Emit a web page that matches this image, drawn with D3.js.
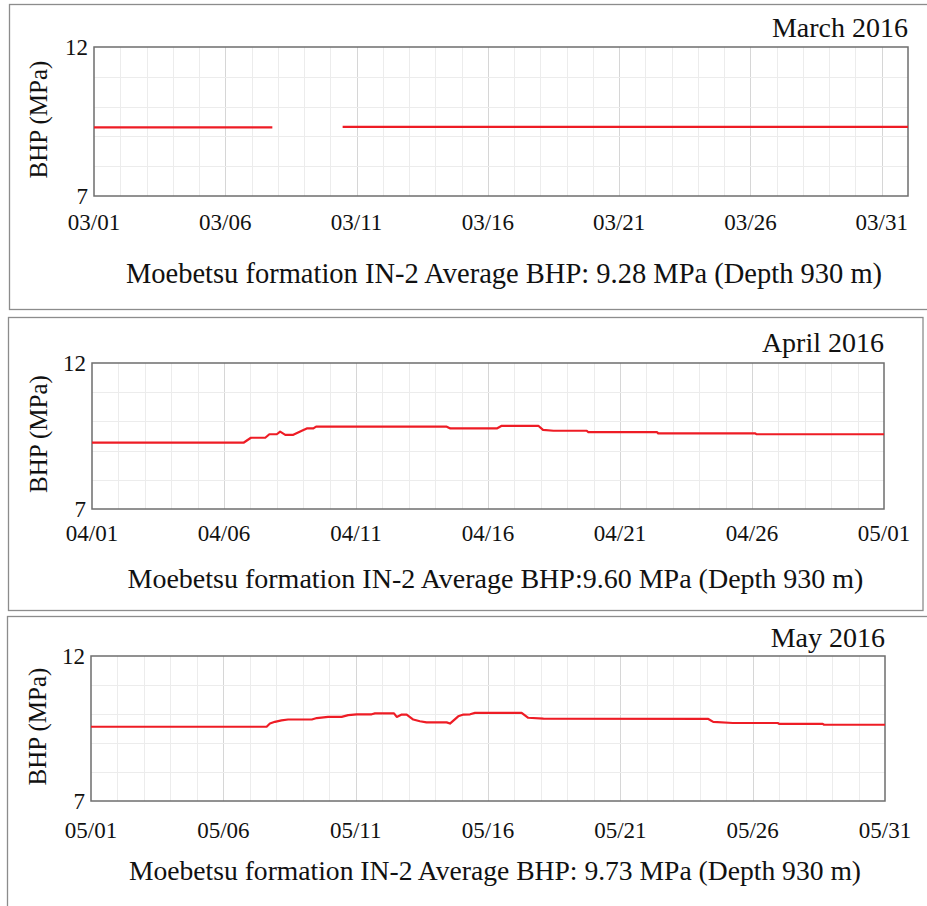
<!DOCTYPE html>
<html>
<head>
<meta charset="utf-8">
<script src="https://cdn.jsdelivr.net/npm/d3@7"></script>
<style>
  body { margin:0; background:#fff; }
</style>
</head>
<body>
<svg id="chart" width="927" height="906"></svg>
<script>
// ----------------------------------------------------------------
// BHP readings, Moebetsu formation IN-2
// ----------------------------------------------------------------
var marchTimes = ["2016-03-01 00:00","2016-03-07 19:00","2016-03-09 00:00","2016-03-10 11:15","2016-04-01 00:00"];
var marchValues = [9.30, 9.30, null, 9.32, 9.32];

var aprilTimes = ["2016-04-01 00:00","2016-04-06 17:45","2016-04-07 00:30","2016-04-07 13:30","2016-04-07 17:15",
  "2016-04-08 00:00","2016-04-08 03:00","2016-04-08 07:45","2016-04-08 15:00","2016-04-08 22:45","2016-04-09 03:15",
  "2016-04-09 09:15","2016-04-09 11:45","2016-04-14 10:30","2016-04-14 13:45","2016-04-16 08:00","2016-04-16 12:30",
  "2016-04-17 21:45","2016-04-18 02:00","2016-04-18 11:30","2016-04-19 17:45","2016-04-19 19:15","2016-04-22 09:45",
  "2016-04-22 10:45","2016-04-26 03:00","2016-04-26 04:00","2016-05-01 00:00"];
var aprilValues = [9.27, 9.27, 9.44, 9.44, 9.56, 9.56, 9.65, 9.54, 9.54, 9.68, 9.76, 9.76, 9.82, 9.82, 9.76, 9.76,
  9.85, 9.85, 9.71, 9.68, 9.68, 9.63, 9.63, 9.59, 9.59, 9.56, 9.56];

var mayTimes = ["2016-05-01 00:00","2016-05-07 15:15","2016-05-07 18:15","2016-05-07 22:45","2016-05-08 04:45",
  "2016-05-08 10:45","2016-05-09 08:15","2016-05-09 12:45","2016-05-09 23:00","2016-05-10 11:15","2016-05-10 17:15",
  "2016-05-11 01:00","2016-05-11 14:30","2016-05-11 17:30","2016-05-12 10:45","2016-05-12 13:15","2016-05-12 17:45",
  "2016-05-12 22:15","2016-05-13 04:15","2016-05-13 10:15","2016-05-13 16:15","2016-05-14 10:30","2016-05-14 13:30",
  "2016-05-14 21:00","2016-05-15 01:45","2016-05-15 07:45","2016-05-15 12:15","2016-05-17 06:30","2016-05-17 12:30",
  "2016-05-18 02:15","2016-05-24 07:45","2016-05-24 12:15","2016-05-25 06:00","2016-05-26 22:45","2016-05-27 00:00",
  "2016-05-28 15:30","2016-05-28 16:45","2016-05-31 00:00"];
var mayValues = [9.56, 9.56, 9.67, 9.73, 9.78, 9.81, 9.81, 9.86, 9.90, 9.90, 9.96, 9.99, 9.99, 10.02, 10.02, 9.90,
  9.98, 9.98, 9.81, 9.75, 9.71, 9.71, 9.67, 9.92, 9.98, 9.99, 10.04, 10.04, 9.87, 9.84, 9.83, 9.73, 9.69, 9.69,
  9.66, 9.66, 9.63, 9.63];

var monthTitles = ["March 2016", "April 2016", "May 2016"];
var monthStarts = ["2016-03-01 00:00", "2016-04-01 00:00", "2016-05-01 00:00"];
var monthEnds = ["2016-04-01 00:00", "2016-05-01 00:00", "2016-05-31 00:00"];
var captions = [
  "Moebetsu formation IN-2 Average BHP: 9.28 MPa (Depth 930 m)",
  "Moebetsu formation IN-2 Average BHP:9.60 MPa (Depth 930 m)",
  "Moebetsu formation IN-2 Average BHP: 9.73 MPa (Depth 930 m)"
];
var yTickLabels = [7, 12];
var yGridValues = [8, 9, 10, 11];
var yLabel = "BHP (MPa)";

// ----------------------------------------------------------------
// panel layout (pixels)
// ----------------------------------------------------------------
var layout = [
  {box:[9.5, 4.5, 930, 305], plot:[94, 47, 908, 196], titleY:37, tickY:230, capX:504, capY:283, capSize:28.5, ylabX:39},
  {box:[8.5, 317.5, 914.5, 293], plot:[92, 363, 884, 509], titleY:352, tickY:541, capX:495.5, capY:588, capSize:28, ylabX:39},
  {box:[7.5, 616.5, 930, 300], plot:[91, 656, 885, 801], titleY:647, tickY:838, capX:495, capY:880, capSize:27.6, ylabX:38}
];

var series = [
  {times:marchTimes, values:marchValues},
  {times:aprilTimes, values:aprilValues},
  {times:mayTimes, values:mayValues}
];

var szFont = "font-family:'Liberation Serif','Times New Roman',serif;fill:#111;";
var parse = d3.timeParse("%Y-%m-%d %H:%M");
var svg = d3.select("#chart");

for ( var p=0; p<3; p++ ){

  var L = layout[p];
  var x0 = L.plot[0], y0 = L.plot[1], x1 = L.plot[2], y1 = L.plot[3];
  var g = svg.append("g");

  // panel frame
  g.append("rect")
    .attr("x", L.box[0]).attr("y", L.box[1])
    .attr("width", L.box[2]).attr("height", L.box[3])
    .attr("style", "fill:none;stroke:#8c8c8c;stroke-width:1.3;");

  var start = parse(monthStarts[p]);
  var end = parse(monthEnds[p]);

  var x = d3.scaleTime().domain([start, end]).range([x0, x1]);
  var y = d3.scaleLinear().domain([7, 12]).range([y1, y0]);

  // daily grid
  var days = d3.timeDay.range(d3.timeDay.offset(start, 1), end);
  g.selectAll("line.vgrid").data(days).enter().append("line")
    .attr("class", "vgrid")
    .attr("x1", function(d){ return Math.round(x(d)) + 0.5; })
    .attr("x2", function(d){ return Math.round(x(d)) + 0.5; })
    .attr("y1", y0).attr("y2", y1)
    .attr("stroke", function(d){ return (d3.timeDay.count(start, d) % 5 == 0) ? "#d6d6d6" : "#ececec"; })
    .attr("stroke-width", 1);

  g.selectAll("line.hgrid").data(yGridValues).enter().append("line")
    .attr("class", "hgrid")
    .attr("x1", x0).attr("x2", x1)
    .attr("y1", function(d){ return Math.round(y(d)) + 0.5; })
    .attr("y2", function(d){ return Math.round(y(d)) + 0.5; })
    .attr("stroke", "#ececec").attr("stroke-width", 1);

  // plot border
  g.append("rect")
    .attr("x", x0).attr("y", y0)
    .attr("width", x1 - x0).attr("height", y1 - y0)
    .attr("style", "fill:none;stroke:#6e6e6e;stroke-width:1.5;");

  // data line
  var pts = [];
  for ( var i=0; i<series[p].times.length; i++ ){
    pts.push({t:parse(series[p].times[i]), v:series[p].values[i]});
  }
  var line = d3.line()
    .defined(function(d){ return d.v !== null; })
    .x(function(d){ return x(d.t); })
    .y(function(d){ return y(d.v); });

  g.append("path")
    .datum(pts)
    .attr("d", line)
    .attr("style", "fill:none;stroke:#ee1c25;stroke-width:2.2;stroke-linejoin:round;");

  // x tick labels, every 5 days
  var ticks = [];
  for ( var k=0; k<=30; k+=5 ){ ticks.push(d3.timeDay.offset(start, k)); }
  var fmt = d3.timeFormat("%m/%d");
  g.selectAll("text.xtick").data(ticks).enter().append("text")
    .attr("class", "xtick")
    .attr("x", function(d){ return x(d); })
    .attr("y", L.tickY)
    .attr("text-anchor", "middle")
    .attr("style", szFont + "font-size:23px;")
    .text(function(d){ return fmt(d); });

  // y tick labels
  g.selectAll("text.ytick").data(yTickLabels).enter().append("text")
    .attr("class", "ytick")
    .attr("x", x0 - 6)
    .attr("y", function(d){ return y(d) + 8; })
    .attr("text-anchor", "end")
    .attr("style", szFont + "font-size:23px;")
    .text(function(d){ return d; });

  // y axis label
  var ym = (y0 + y1) / 2 - 2;
  g.append("text")
    .attr("transform", "translate(" + (L.ylabX + 8) + "," + ym + ") rotate(-90)")
    .attr("text-anchor", "middle")
    .attr("style", szFont + "font-size:25px;")
    .text(yLabel);

  // month title
  g.append("text")
    .attr("x", x1).attr("y", L.titleY)
    .attr("text-anchor", "end")
    .attr("style", szFont + "font-size:28px;")
    .text(monthTitles[p]);

  // caption
  g.append("text")
    .attr("x", L.capX).attr("y", L.capY)
    .attr("text-anchor", "middle")
    .attr("style", szFont + "font-size:" + L.capSize + "px;")
    .text(captions[p]);
}
</script>
</body>
</html>
